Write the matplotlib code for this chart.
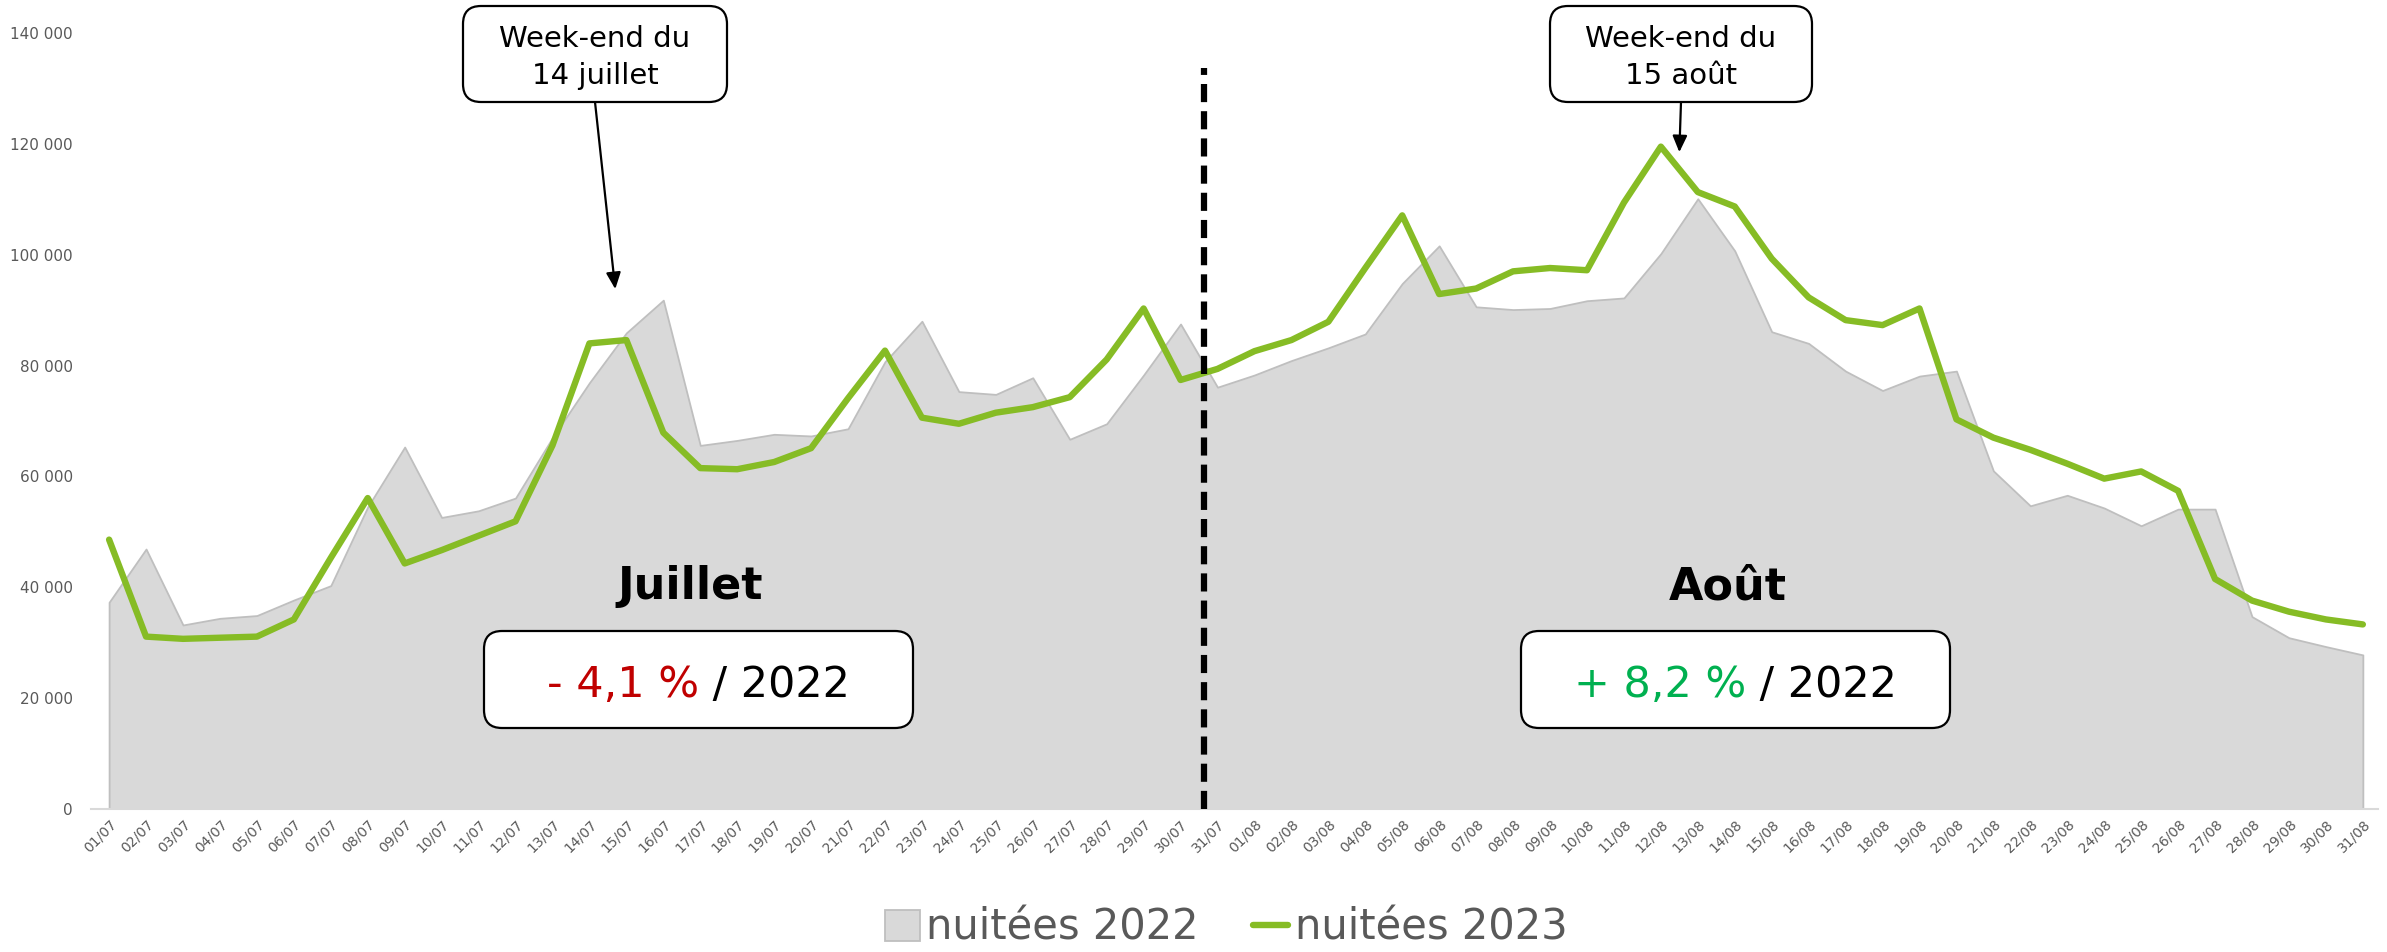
import numpy as np
import matplotlib.pyplot as plt
import matplotlib.ticker as ticker
from matplotlib.patches import FancyBboxPatch, Patch
from matplotlib.lines import Line2D

# dates (juillet + août)
jours_juillet = ["%02d/07" % d for d in range(1, 32)]
jours_aout = ["%02d/08" % d for d in range(1, 32)]
dates = jours_juillet + jours_aout

nuitees_2022 = [37300, 46900, 33200, 34400, 34900, 37700, 40300, 54500, 65300, 52600,
                53800, 56100, 67000, 76900, 85900, 91800, 65600, 66500, 67600, 67300,
                68600, 80700, 88000, 75300, 74800, 77800, 66700, 69500, 78300, 87500,
                76100,
                78300, 80900, 83200, 85700, 94800, 101600, 90600, 90100, 90300, 91700,
                92200, 100200, 110100, 100700, 86100, 84000, 79000, 75500, 78100, 79000,
                61000, 54700, 56600, 54300, 51100, 54100, 54100, 34700, 30900, 29300,
                27800]

nuitees_2023 = [48600, 31100, 30700, 30900, 31100, 34200, 45300, 56100, 44300, 46700,
                49300, 51900, 65600, 84000, 84600, 67900, 61500, 61300, 62600, 65100,
                74100, 82700, 70600, 69500, 71500, 72500, 74300, 81100, 90300, 77400,
                79400,
                82600, 84600, 87900, 97600, 107100, 92900, 93900, 97000, 97600, 97200,
                109400, 119500, 111300, 108700, 99300, 92300, 88200, 87300, 90300, 70300,
                67000, 64800, 62300, 59600, 60900, 57400, 41500, 37600, 35600, 34200,
                33300]

series_labels = ["nuitées 2022", "nuitées 2023"]
mois = ["Juillet", "Août"]
evolutions = ["- 4,1 %", "+ 8,2 %"]
evol_colors = ["#c00000", "#00b050"]
callouts = ["Week-end du\n14 juillet", "Week-end du\n15 août"]
callout_targets = [(13.7, 93800), (42.5, 118500)]
separation = 29.63

GREEN = "#86BC25"
GREY_FILL = "#d9d9d9"
GREY_EDGE = "#bfbfbf"
TXT = "#595959"

W, H = 2387, 952
plt.rcParams['font.family'] = ['DejaVu Sans']


def fx(px):
    return px / W


def fy(py):
    return 1 - py / H


fig = plt.figure(figsize=(W / 100, H / 100), dpi=100)
ax = fig.add_axes([fx(91), fy(809), (2378 - 91) / W, (809 - 33) / H])

x = np.arange(len(dates))
ax.fill_between(x, 0, nuitees_2022, facecolor=GREY_FILL, edgecolor=GREY_EDGE, lw=1.3, zorder=1)
ax.plot(x, nuitees_2023, color=GREEN, lw=4.6, solid_joinstyle='round', solid_capstyle='round', zorder=3)
ax.plot([separation, separation], [0, 133600], color='black', lw=4.5,
        linestyle=(0, (2.9, 1.45)), zorder=4)

ax.set_xlim(-0.49, 61.41)
ax.set_ylim(0, 140000)
ax.set_yticks(np.arange(0, 140001, 20000))
ax.yaxis.set_major_formatter(ticker.FuncFormatter(lambda v, p: "{:,.0f}".format(v).replace(",", " ")))
ax.tick_params(axis='y', length=0, pad=13, labelsize=11, labelcolor=TXT)
ax.set_xticks(x)
ax.set_xticklabels(dates, rotation=45, ha='right', va='top', rotation_mode='anchor')
ax.tick_params(axis='x', length=0, pad=6, labelsize=10, labelcolor=TXT)
for s in ['top', 'right', 'left']:
    ax.spines[s].set_visible(False)
ax.spines['bottom'].set_color(GREY_FILL)
ax.spines['bottom'].set_linewidth(1.5)


def rounded_box(x0, y0, x1, y1):
    # pixel coords, origin top-left
    p = FancyBboxPatch((x0 / 100, (H - y1) / 100), (x1 - x0) / 100, (y1 - y0) / 100,
                       boxstyle="round,pad=0,rounding_size=0.18",
                       transform=fig.dpi_scale_trans, fc='white', ec='black', lw=1.6,
                       zorder=10)
    fig.patches.append(p)


# callouts week-end
for (bx0, bx1), txt, tgt in zip([(463, 727), (1550, 1812)], callouts, callout_targets):
    rounded_box(bx0, 6, bx1, 102)
    cx = (bx0 + bx1) / 2
    l1, l2 = txt.split("\n")
    fig.text(fx(cx), fy(47), l1, ha='center', va='baseline', fontsize=21, zorder=11)
    fig.text(fx(cx), fy(84), l2, ha='center', va='baseline', fontsize=21, zorder=11)
    ax.annotate('', xy=tgt, xycoords='data', xytext=(fx(cx), fy(102)),
                textcoords='figure fraction',
                arrowprops=dict(arrowstyle='-|>,head_length=0.9,head_width=0.4',
                                mutation_scale=11, color='black', lw=1.6,
                                shrinkA=0, shrinkB=0), zorder=12)

# month summaries
r = fig.canvas.get_renderer()
for (bx0, bx1), m, ev, col in zip([(484, 913), (1521, 1950)], mois, evolutions, evol_colors):
    cx = (bx0 + bx1) / 2
    fig.text(fx(cx - 8), fy(599), m, ha='center', va='baseline', fontsize=32,
             fontweight='bold', color='black', zorder=11)
    rounded_box(bx0, 631, bx1, 728)
    t1 = fig.text(0, fy(697), ev, ha='left', va='baseline', fontsize=31, color=col, zorder=11)
    t2 = fig.text(0, fy(697), " / 2022", ha='left', va='baseline', fontsize=31, color='black', zorder=11)
    w1 = t1.get_window_extent(r).width
    w2 = t2.get_window_extent(r).width
    start = cx - (w1 + w2) / 2
    t1.set_x(fx(start))
    t2.set_x(fx(start + w1))

handles = [Patch(facecolor=GREY_FILL, edgecolor=GREY_EDGE, lw=1.3),
           Line2D([], [], color=GREEN, lw=4.6, solid_capstyle='round')]
fig.legend(handles, series_labels, loc='center', bbox_to_anchor=(fx(1226), fy(928)),
           ncol=2, frameon=False, fontsize=30, labelcolor=TXT, handlelength=0.85,
           handleheight=0.75, handletextpad=0.15, columnspacing=1.3)

fig.savefig("out.png", dpi=100)
